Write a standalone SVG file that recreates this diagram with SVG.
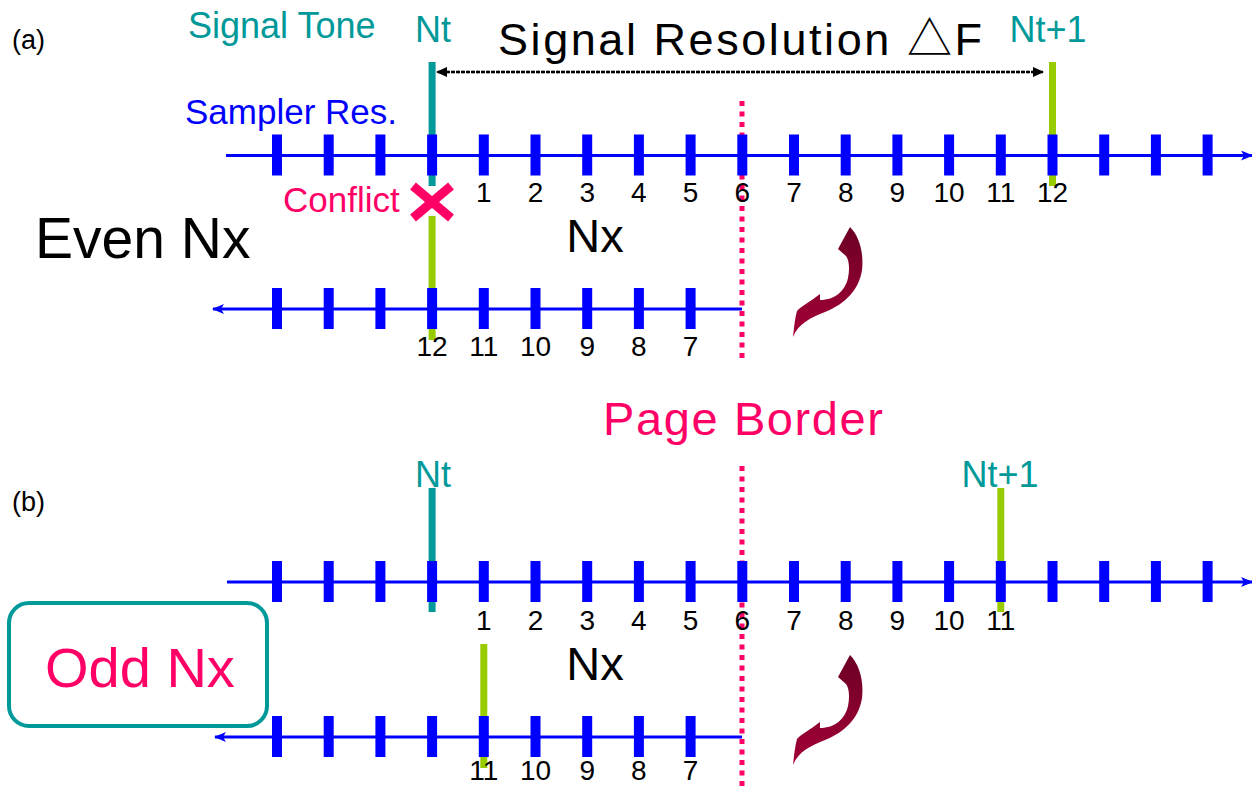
<svg xmlns="http://www.w3.org/2000/svg" xmlns:xlink="http://www.w3.org/1999/xlink" width="1252" height="786" viewBox="0 0 1252 786">
<style>
text{font-family:"Liberation Sans",Arial,"Noto Sans CJK JP",sans-serif}
.teal{fill:#009999;font-size:36px}
.num{fill:#000;font-size:28px;text-anchor:middle}
.axis{stroke:#0000FF;stroke-width:3;fill:none}
.tick{fill:#0000FF}
.sigT{stroke:#009999;stroke-width:7}
.sigG{stroke:#99CC00;stroke-width:7}
.border{stroke:#FF0066;stroke-width:5;stroke-dasharray:5 5.5}
.pink{fill:#FF0066}
</style>
<defs>
<marker id="axHead" markerUnits="userSpaceOnUse" markerWidth="12" markerHeight="10" viewBox="0 0 12 10" refX="11" refY="5" orient="auto"><path d="M0,0 L12,5 L0,10 L3,5 Z" fill="#0000FF"/></marker>
<marker id="dimHead" markerUnits="userSpaceOnUse" markerWidth="11" markerHeight="10" viewBox="0 0 11 10" refX="10" refY="5" orient="auto"><path d="M0,0 L11,5 L0,10 Z" fill="#000"/></marker>
<linearGradient id="curveGrad" x1="0" y1="0" x2="0" y2="1"><stop offset="0" stop-color="#6B0025"/><stop offset="1" stop-color="#A30036"/></linearGradient>
<path id="curveArrow" fill="url(#curveGrad)" d="M850,227 C859,236 864,252 862,270 C859,290 845,304 825,312 C810,318 798,324 793,337 C794,328 795,318 797,311 C800,307 810,302 820,294 L820,300 C835,300 845,291 848,278 C850,268 849,260 846,256 L838,249 Z"/>
<g id="ticks19">
<rect class="tick" x="272" y="-21" width="10" height="41"/>
<rect class="tick" x="323.7" y="-21" width="10" height="41"/>
<rect class="tick" x="375.4" y="-21" width="10" height="41"/>
<rect class="tick" x="427.1" y="-21" width="10" height="41"/>
<rect class="tick" x="478.8" y="-21" width="10" height="41"/>
<rect class="tick" x="530.5" y="-21" width="10" height="41"/>
<rect class="tick" x="582.2" y="-21" width="10" height="41"/>
<rect class="tick" x="633.9" y="-21" width="10" height="41"/>
<rect class="tick" x="685.6" y="-21" width="10" height="41"/>
<rect class="tick" x="737.3" y="-21" width="10" height="41"/>
<rect class="tick" x="789" y="-21" width="10" height="41"/>
<rect class="tick" x="840.7" y="-21" width="10" height="41"/>
<rect class="tick" x="892.4" y="-21" width="10" height="41"/>
<rect class="tick" x="944.1" y="-21" width="10" height="41"/>
<rect class="tick" x="995.8" y="-21" width="10" height="41"/>
<rect class="tick" x="1047.5" y="-21" width="10" height="41"/>
<rect class="tick" x="1099.2" y="-21" width="10" height="41"/>
<rect class="tick" x="1150.9" y="-21" width="10" height="41"/>
<rect class="tick" x="1202.6" y="-21" width="10" height="41"/>
</g>
<g id="ticks9">
<rect class="tick" x="272" y="-21" width="10" height="41"/>
<rect class="tick" x="323.7" y="-21" width="10" height="41"/>
<rect class="tick" x="375.4" y="-21" width="10" height="41"/>
<rect class="tick" x="427.1" y="-21" width="10" height="41"/>
<rect class="tick" x="478.8" y="-21" width="10" height="41"/>
<rect class="tick" x="530.5" y="-21" width="10" height="41"/>
<rect class="tick" x="582.2" y="-21" width="10" height="41"/>
<rect class="tick" x="633.9" y="-21" width="10" height="41"/>
<rect class="tick" x="685.6" y="-21" width="10" height="41"/>
</g>
</defs>
<rect width="1252" height="786" fill="#fff"/>

<!-- Panel (a) -->
<g id="label-a"><text x="12" y="49" font-size="27">(a)</text></g>
<g id="signal-tone-label"><text class="teal" x="188" y="38">Signal Tone</text></g>
<g id="sampler-res-label"><text x="185" y="124" font-size="35" fill="#0000FF">Sampler Res.</text></g>
<g id="resolution-label"><text x="498" y="55" font-size="45" textLength="484" lengthAdjust="spacing">Signal Resolution △F</text></g>

<g id="border-a"><line class="border" x1="742" y1="101" x2="742" y2="360"/></g>

<g id="signal-nt-a">
<text class="teal" x="433" y="42" text-anchor="middle">Nt</text>
<line class="sigT" x1="432.1" y1="62" x2="432.1" y2="186"/>
</g>
<g id="signal-nt1-a">
<text class="teal" x="1048" y="42" text-anchor="middle">Nt+1</text>
<line class="sigG" x1="1052.5" y1="62" x2="1052.5" y2="186"/>
</g>
<g id="mirror-signal-a"><line class="sigG" x1="432.1" y1="216" x2="432.1" y2="340"/></g>

<g id="axis-upper-a">
<use xlink:href="#ticks19" href="#ticks19" transform="translate(0,155.5)"/>
</g>
<g id="axis-lower-a">
<use xlink:href="#ticks9" href="#ticks9" transform="translate(0,309)"/>
</g>

<g id="numbers-upper-a">
<text class="num" x="483.8" y="202">1</text>
<text class="num" x="535.5" y="202">2</text>
<text class="num" x="587.2" y="202">3</text>
<text class="num" x="638.9" y="202">4</text>
<text class="num" x="690.6" y="202">5</text>
<text class="num" x="742.3" y="202">6</text>
<text class="num" x="794" y="202">7</text>
<text class="num" x="845.7" y="202">8</text>
<text class="num" x="897.4" y="202">9</text>
<text class="num" x="949.1" y="202">10</text>
<text class="num" x="1000.8" y="202">11</text>
<text class="num" x="1052.5" y="202">12</text>
</g>
<g id="numbers-lower-a">
<text class="num" x="432.1" y="356">12</text>
<text class="num" x="483.8" y="356">11</text>
<text class="num" x="535.5" y="356">10</text>
<text class="num" x="587.2" y="356">9</text>
<text class="num" x="638.9" y="356">8</text>
<text class="num" x="690.6" y="356">7</text>
</g>

<g id="conflict">
<text class="pink" x="283" y="212" font-size="35">Conflict</text>
<path d="M413,186 L451,218 M451,186 L413,218" stroke="#FF0066" stroke-width="9"/>
</g>
<g id="even-nx"><text x="35" y="258" font-size="57">Even Nx</text></g>
<g id="nx-a"><text x="595" y="252" font-size="47" text-anchor="middle">Nx</text></g>
<g id="fold-arrow-a"><use xlink:href="#curveArrow" href="#curveArrow"/></g>

<g id="page-border-label"><text class="pink" x="743" y="435" font-size="47" text-anchor="middle" textLength="280" lengthAdjust="spacing">Page Border</text></g>

<!-- Panel (b) -->
<g id="label-b"><text x="12" y="511" font-size="27">(b)</text></g>
<g id="border-b"><line class="border" x1="742" y1="466" x2="742" y2="790"/></g>
<g id="signal-nt-b">
<text class="teal" x="433" y="487" text-anchor="middle">Nt</text>
<line class="sigT" x1="432.1" y1="488" x2="432.1" y2="612"/>
</g>
<g id="signal-nt1-b">
<text class="teal" x="1000" y="487" text-anchor="middle">Nt+1</text>
<line class="sigG" x1="1000.8" y1="488" x2="1000.8" y2="612"/>
</g>
<g id="mirror-signal-b"><line class="sigG" x1="483.8" y1="644" x2="483.8" y2="768"/></g>

<g id="axis-upper-b">
<use xlink:href="#ticks19" href="#ticks19" transform="translate(0,582)"/>
</g>
<g id="axis-lower-b">
<use xlink:href="#ticks9" href="#ticks9" transform="translate(0,737)"/>
</g>

<g id="numbers-upper-b">
<text class="num" x="483.8" y="630">1</text>
<text class="num" x="535.5" y="630">2</text>
<text class="num" x="587.2" y="630">3</text>
<text class="num" x="638.9" y="630">4</text>
<text class="num" x="690.6" y="630">5</text>
<text class="num" x="742.3" y="630">6</text>
<text class="num" x="794" y="630">7</text>
<text class="num" x="845.7" y="630">8</text>
<text class="num" x="897.4" y="630">9</text>
<text class="num" x="949.1" y="630">10</text>
<text class="num" x="1000.8" y="630">11</text>
</g>
<g id="numbers-lower-b">
<text class="num" x="483.8" y="780" font-size="27">11</text>
<text class="num" x="535.5" y="780" font-size="27">10</text>
<text class="num" x="587.2" y="780" font-size="27">9</text>
<text class="num" x="638.9" y="780" font-size="27">8</text>
<text class="num" x="690.6" y="780" font-size="27">7</text>
</g>

<g id="odd-nx">
<rect x="9" y="603" width="258" height="123" rx="20" ry="20" fill="#fff" stroke="#009999" stroke-width="4"/>
<text class="pink" x="45" y="687" font-size="56">Odd Nx</text>
</g>
<g id="nx-b"><text x="595" y="680" font-size="47" text-anchor="middle">Nx</text></g>
<g id="fold-arrow-b"><use xlink:href="#curveArrow" href="#curveArrow" transform="translate(0,428)"/></g>

<!-- connectors -->
<g id="connectors">
<line class="axis" x1="226" y1="155.5" x2="1252" y2="155.5" marker-end="url(#axHead)"/>
<line class="axis" x1="742" y1="309" x2="213" y2="309" marker-end="url(#axHead)"/>
<line class="axis" x1="227" y1="582" x2="1252" y2="582" marker-end="url(#axHead)"/>
<line class="axis" x1="742" y1="737" x2="215" y2="737" marker-end="url(#axHead)"/>
<line x1="446" y1="72" x2="1043" y2="72" stroke="#000" stroke-width="2.5" stroke-dasharray="2.5 2.5" marker-end="url(#dimHead)"/>
<line x1="1040" y1="72" x2="437" y2="72" stroke="#000" stroke-width="2.5" stroke-dasharray="2.5 2.5" marker-end="url(#dimHead)"/>
</g>
</svg>
